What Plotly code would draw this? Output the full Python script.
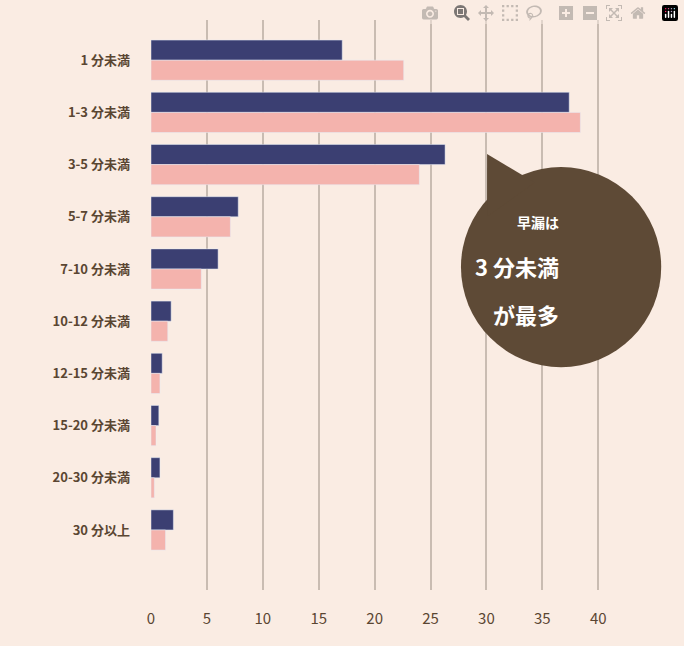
import plotly.graph_objects as go

# 早漏の持続時間（分布）
categories = ["1 分未満", "1-3 分未満", "3-5 分未満", "5-7 分未満", "7-10 分未満",
              "10-12 分未満", "12-15 分未満", "15-20 分未満", "20-30 分未満", "30 分以上"]
series_a = [17.1, 37.4, 26.3, 7.8, 6.0, 1.8, 1.0, 0.7, 0.8, 2.0]
series_b = [22.6, 38.4, 24.0, 7.1, 4.5, 1.5, 0.8, 0.45, 0.3, 1.3]
tick_vals = [0, 5, 10, 15, 20, 25, 30, 35, 40]

bg = "#faece3"
brown = "#5a4632"

fig = go.Figure()
fig.add_trace(go.Bar(y=categories, x=series_a, orientation="h",
                     marker_color="#3b3f72", showlegend=False))
fig.add_trace(go.Bar(y=categories, x=series_b, orientation="h",
                     marker_color="#f4b3ad", showlegend=False))

# 吹き出し
bubble = "#5e4a36"
fig.add_shape(type="circle", xref="paper", yref="paper",
              x0=0.630, x1=1.037, y0=0.391, y1=0.742,
              fillcolor=bubble, line_width=0, layer="above")
fig.add_shape(type="path", xref="paper", yref="paper",
              path="M 0.683 0.655 L 0.683 0.765 L 0.78 0.715 Z",
              fillcolor=bubble, line_width=0, layer="above")
fig.add_annotation(xref="paper", yref="paper", x=0.833, y=0.645, text="<b>早漏は</b>",
                   showarrow=False, font=dict(size=14, color="white"))
fig.add_annotation(xref="paper", yref="paper", x=0.833, y=0.568, text="<b>3 分未満</b>",
                   showarrow=False, font=dict(size=22, color="white"))
fig.add_annotation(xref="paper", yref="paper", x=0.833, y=0.485, text="<b>が最多</b>",
                   showarrow=False, font=dict(size=22, color="white"))

fig.update_layout(
    width=684, height=646,
    margin=dict(l=151, r=41, t=20, b=56),
    paper_bgcolor=bg, plot_bgcolor=bg,
    barmode="group", bargap=0.23, bargroupgap=0,
    font=dict(family="Noto Sans CJK JP", color=brown),
    xaxis=dict(range=[0, 44], tickvals=tick_vals, showgrid=True, gridcolor="#c9bcb2",
               gridwidth=1.5, zeroline=False, tickfont=dict(size=15, color=brown),
               ticks="", ticklabelstandoff=18),
    yaxis=dict(range=[10.15, -0.77], showgrid=False, tickfont=dict(size=13, color=brown),
               ticklabelstandoff=20, ticks=""),
)
fig.update_yaxes(tickprefix="<b>", ticksuffix="</b>")

fig.write_html("out.html", post_script="document.body.style.margin='0';")
